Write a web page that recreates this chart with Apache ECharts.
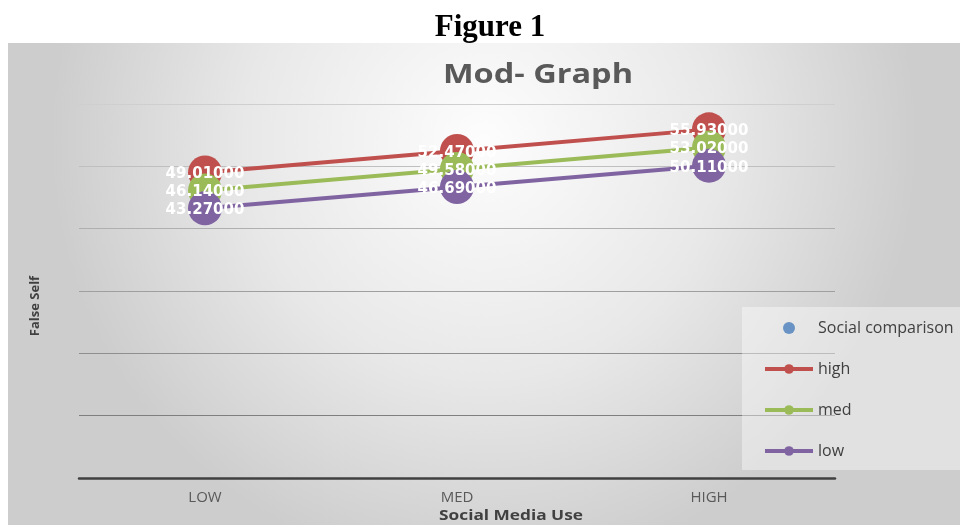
<!DOCTYPE html>
<html>
<head>
<meta charset="utf-8">
<script src="https://cdn.jsdelivr.net/npm/echarts@6/dist/echarts.min.js"></script>
<style>
  html, body { margin: 0; padding: 0; background: #fff; }
  #chart { width: 960px; height: 525px; }
</style>
</head>
<body>
<div id="chart"></div>
<script>
// categories on the x axis
const categories = ["LOW", "MED", "HIGH"];
// series values (False Self)
const highValues = [49.01, 52.47, 55.93];
const medValues = [46.14, 49.58, 53.02];
const lowValues = [43.27, 46.69, 50.11];
const legendNames = ["Social comparison", "high", "med", "low"];

const chart = echarts.init(document.getElementById("chart"));

function lineSeries(name, color, data) {
  return {
    name: name,
    type: "line",
    data: data,
    symbol: "circle",
    symbolSize: 34,
    lineStyle: { width: 4, color: color },
    itemStyle: { color: color },
    label: {
      show: true,
      position: "inside",
      offset: [0, 2],
      color: "#fff",
      fontWeight: "bold",
      fontSize: 15,
      fontFamily: "DejaVu Sans",
      formatter: (p) => p.value.toFixed(5),
    },
    z: 3,
  };
}

const option = {
  animation: false,
  backgroundColor: "#fff",
  graphic: [
    {
      type: "rect",
      z: -100,
      shape: { x: 8, y: 43, width: 952, height: 482 },
      style: {
        fill: new echarts.graphic.RadialGradient(0.5, 0.2, 0.9, [
          { offset: 0, color: "#fdfdfd" },
          { offset: 0.55, color: "#e8e8e8" },
          { offset: 1, color: "#cdcdcd" },
        ]),
      },
    },
    {
      type: "rect",
      z: 1,
      shape: { x: 742, y: 307, width: 218, height: 163 },
      style: { fill: "rgba(255,255,255,0.4)" },
    },
    {
      type: "text",
      x: 490, y: 28,
      style: {
        text: "Figure 1", fill: "#000", align: "center", verticalAlign: "middle",
        font: "bold 31px 'Liberation Serif'",
      },
    },
    {
      type: "text",
      x: 538, y: 76, scaleX: 1.25,
      style: {
        text: "Mod- Graph", fill: "#595959", align: "center", verticalAlign: "middle",
        font: "bold 26px 'Open Sans'",
      },
    },
    {
      type: "text",
      x: 35, y: 306, rotation: Math.PI / 2,
      style: {
        text: "False Self", fill: "#404040", align: "center", verticalAlign: "middle",
        font: "bold 13px 'Open Sans'",
      },
    },
    {
      type: "text",
      x: 511, y: 516, scaleX: 1.15,
      style: {
        text: "Social Media Use", fill: "#404040", align: "center", verticalAlign: "middle",
        font: "bold 15px 'Open Sans'",
      },
    },
  ],
  legend: {
    orient: "vertical",
    left: 758,
    top: 315,
    itemWidth: 48,
    itemHeight: 12,
    itemGap: 25,
    data: legendNames.map((n) => (n === "Social comparison" ? { name: n, icon: "circle" } : n)),
    lineStyle: { width: 4 },
    textStyle: { color: "#404040", fontSize: 16, fontFamily: "Open Sans" },
    z: 5,
  },
  grid: { left: 79, right: 125, top: 104, bottom: 47 },
  xAxis: {
    type: "category",
    data: categories,
    axisLine: { lineStyle: { color: "#404040", width: 2.5 } },
    axisTick: { show: false },
    axisLabel: { color: "#595959", fontSize: 15, fontFamily: "Open Sans", margin: 12 },
  },
  yAxis: {
    type: "value",
    min: 0,
    max: 60,
    interval: 10,
    axisLabel: { show: false },
    axisLine: { show: false },
    axisTick: { show: false },
    splitLine: {
      lineStyle: {
        width: 1,
        color: new echarts.graphic.LinearGradient(0, 104, 0, 478, [
          { offset: 0, color: "#cfcfcf" },
          { offset: 1, color: "#6f6f6f" },
        ], true),
      },
    },
  },
  series: [
    {
      name: "Social comparison",
      type: "scatter",
      data: [],
      itemStyle: { color: "#4a7ebb" },
    },
    lineSeries("high", "#c0504d", highValues),
    lineSeries("med", "#9bbb59", medValues),
    lineSeries("low", "#8064a2", lowValues),
  ],
};

chart.setOption(option);
</script>
</body>
</html>
